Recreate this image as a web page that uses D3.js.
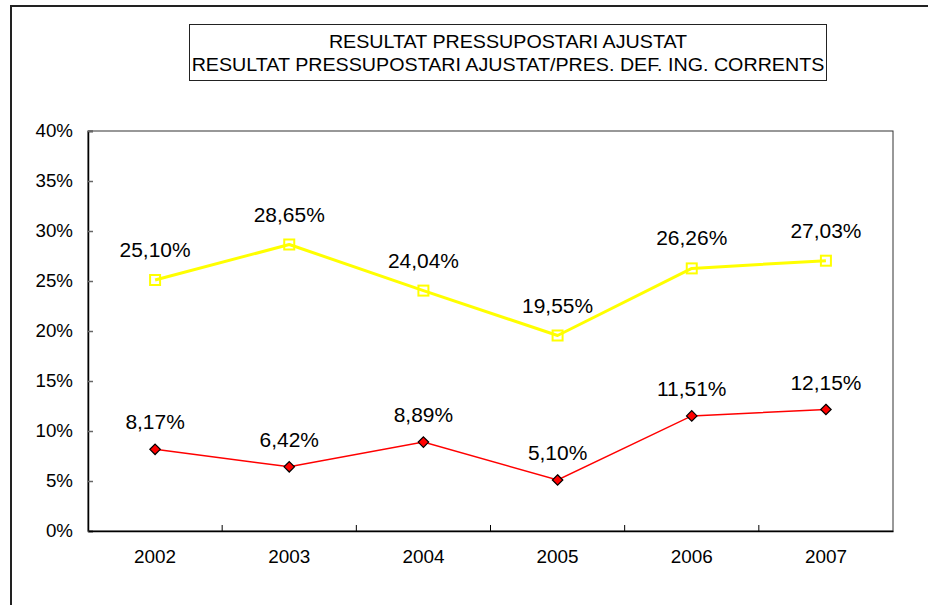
<!DOCTYPE html>
<html>
<head>
<meta charset="utf-8">
<script src="https://cdn.jsdelivr.net/npm/d3@7"></script>
<style>
  html, body { margin: 0; padding: 0; background: #fff; }
  svg { display: block; font-family: "Liberation Sans", Arial, sans-serif; }
</style>
</head>
<body>
<svg id="chart" width="928" height="605"></svg>
<script>
// Years on the category axis
const years = ["2002", "2003", "2004", "2005", "2006", "2007"];
// Adjusted budget result (%)
const resultatAjustat = [8.17, 6.42, 8.89, 5.10, 11.51, 12.15];
// Adjusted budget result over current revenue (%)
const resultatSobreIngressos = [25.10, 28.65, 24.04, 19.55, 26.26, 27.03];
// Value axis ticks (%)
const yTicks = [0, 5, 10, 15, 20, 25, 30, 35, 40];
const titleLines = [
  "RESULTAT PRESSUPOSTARI AJUSTAT",
  "RESULTAT PRESSUPOSTARI AJUSTAT/PRES. DEF. ING. CORRENTS"
];

const svg = d3.select("#chart");
const plot = { left: 88, top: 131, right: 893, bottom: 531 };

const x = d3.scaleBand().domain(years).range([plot.left, plot.right]).padding(0);
const y = d3.scaleLinear().domain([0, 40]).range([plot.bottom, plot.top]);
const fmt = v => d3.format(".2f")(v).replace(".", ",") + "%";

// Text in this chart is slightly wide; stretch glyphs horizontally around the anchor
function widen(sel, sx) {
  sel.each(function () {
    const t = d3.select(this);
    const tx = +t.attr("x") || 0, ty = +t.attr("y") || 0;
    const base = t.attr("transform") || "";
    t.attr("x", 0).attr("y", 0)
      .attr("transform", `${base} translate(${tx},${ty}) scale(${sx},1)`);
  });
}

// Outer chart frame
svg.append("rect")
  .attr("x", 11).attr("y", 6).attr("width", 1000).attr("height", 1000)
  .attr("fill", "none").attr("stroke", "#222").attr("stroke-width", 2);

// Title box
svg.append("rect")
  .attr("x", 189.5).attr("y", 24.5).attr("width", 637).attr("height", 56)
  .attr("fill", "#fff").attr("stroke", "#222").attr("stroke-width", 1);
svg.append("g").selectAll("text").data(titleLines).join("text")
  .attr("x", 508).attr("y", (d, i) => 48 + i * 23)
  .attr("text-anchor", "middle")
  .attr("font-size", 18.5)
  .attr("fill", "#000")
  .text(d => d)
  .call(widen, 1.064);

// Plot area frame
svg.append("rect")
  .attr("x", plot.left).attr("y", plot.top)
  .attr("width", plot.right - plot.left).attr("height", plot.bottom - plot.top)
  .attr("fill", "none").attr("stroke", "#333").attr("stroke-width", 1);

// Value axis
const yAxis = svg.append("g")
  .attr("transform", `translate(${plot.left},0)`)
  .call(d3.axisLeft(y).tickValues(yTicks).tickSize(-5).tickPadding(15)
    .tickFormat(d => d + "%"));
yAxis.select(".domain").attr("stroke", "#000").attr("stroke-width", 1.5);
yAxis.selectAll(".tick line").attr("stroke", "#666").attr("stroke-width", 1.5);
yAxis.selectAll(".tick text")
  .attr("font-size", 17.5).attr("fill", "#000")
  .attr("font-family", "Liberation Sans, Arial, sans-serif")
  .call(widen, 1.07);

// Category axis with ticks between categories
const xAxis = svg.append("g")
  .attr("transform", `translate(0,${plot.bottom})`)
  .call(d3.axisBottom(x).tickSize(0).tickPadding(20));
xAxis.select(".domain").attr("stroke", "#000").attr("stroke-width", 1.5);
xAxis.selectAll(".tick text")
  .attr("font-size", 17.5).attr("fill", "#000")
  .attr("font-family", "Liberation Sans, Arial, sans-serif")
  .call(widen, 1.08);
const boundaries = years.slice(1).map(d => x(d));
svg.append("g").selectAll("line").data(boundaries).join("line")
  .attr("x1", d => d).attr("x2", d => d)
  .attr("y1", plot.bottom).attr("y2", plot.bottom - 6)
  .attr("stroke", "#000").attr("stroke-width", 1);

const cx = d => x(d) + x.bandwidth() / 2;
const line = d3.line().x(d => cx(d.year)).y(d => y(d.v));

// Yellow series: ratio over current revenue
const yellowData = years.map((yr, i) => ({ year: yr, v: resultatSobreIngressos[i] }));
svg.append("path").datum(yellowData)
  .attr("d", line).attr("fill", "none")
  .attr("stroke", "#ffff00").attr("stroke-width", 3).attr("stroke-linejoin", "round");
svg.append("g").selectAll("rect").data(yellowData).join("rect")
  .attr("x", d => cx(d.year) - 5).attr("y", d => y(d.v) - 5)
  .attr("width", 10).attr("height", 10)
  .attr("fill", "none").attr("stroke", "#ffff00").attr("stroke-width", 2);
svg.append("g").selectAll("text").data(yellowData).join("text")
  .attr("x", d => cx(d.year)).attr("y", d => y(d.v) - 23)
  .attr("text-anchor", "middle").attr("font-size", 19.5).attr("fill", "#000")
  .text(d => fmt(d.v))
  .call(widen, 1.075);

// Red series: adjusted budget result
const redData = years.map((yr, i) => ({ year: yr, v: resultatAjustat[i] }));
svg.append("path").datum(redData)
  .attr("d", line).attr("fill", "none")
  .attr("stroke", "#ff0000").attr("stroke-width", 1.5);
svg.append("g").selectAll("path.mk").data(redData).join("path")
  .attr("class", "mk")
  .attr("d", d3.symbol(d3.symbolDiamond2, 70))
  .attr("transform", d => `translate(${cx(d.year)},${y(d.v)})`)
  .attr("fill", "#ff0000").attr("stroke", "#000").attr("stroke-width", 1.2);
svg.append("g").selectAll("text").data(redData).join("text")
  .attr("x", d => cx(d.year)).attr("y", d => y(d.v) - 20)
  .attr("text-anchor", "middle").attr("font-size", 19.5).attr("fill", "#000")
  .text(d => fmt(d.v))
  .call(widen, 1.075);
</script>
</body>
</html>
